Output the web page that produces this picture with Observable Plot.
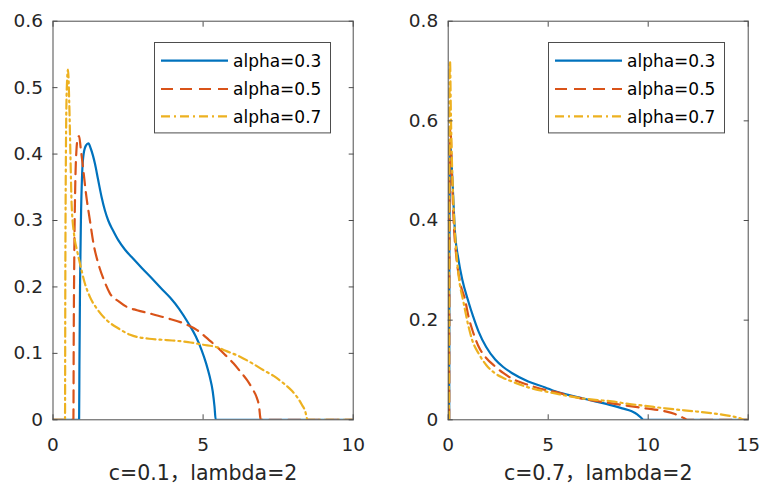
<!DOCTYPE html>
<html><head><meta charset="utf-8">
<script src="https://cdn.jsdelivr.net/npm/d3@7"></script>
<script src="https://cdn.jsdelivr.net/npm/@observablehq/plot@0.6"></script>
<style>
body{margin:0;background:#fff;}
#wrap{position:relative;width:760px;height:488px;overflow:hidden;font-family:"DejaVu Sans","Noto Sans CJK SC",sans-serif;}
.panel{position:absolute;top:0;}
.legend{position:absolute;}
</style></head><body><div id="wrap"></div>
<script>
const seriesNames = ["alpha=0.3", "alpha=0.5", "alpha=0.7"];
const colors = ["#0072BD", "#D95319", "#EDB120"];
const dashes = [null, "12,7", "9,4,2,4"];

// Left panel: c=0.1, lambda=2
const leftXTicks = [0, 5, 10];
const leftYTicks = [0, 0.1, 0.2, 0.3, 0.4, 0.5, 0.6];
const leftX03 = [0, 0.87, 0.88, 0.9, 0.93, 0.97, 1.02, 1.1, 1.18, 1.26, 1.4, 1.5, 1.62, 1.73, 1.84, 2.0, 2.18, 2.4, 2.62, 2.95, 3.29, 3.6, 3.9, 4.2, 4.5, 4.75, 4.95, 5.1, 5.22, 5.32, 5.38, 5.42, 10];
const leftY03 = [0, 0, 0.08, 0.2, 0.3, 0.37, 0.4, 0.413, 0.416, 0.408, 0.385, 0.362, 0.335, 0.315, 0.3, 0.285, 0.27, 0.256, 0.245, 0.229, 0.213, 0.198, 0.184, 0.167, 0.146, 0.126, 0.105, 0.085, 0.065, 0.043, 0.02, 0, 0];
const leftX05 = [0, 0.68, 0.69, 0.71, 0.74, 0.78, 0.83, 0.87, 0.92, 1.0, 1.1, 1.23, 1.35, 1.51, 1.7, 1.9, 2.2, 2.46, 2.8, 3.23, 3.8, 4.3, 4.8, 5.2, 5.46, 5.75, 6.01, 6.25, 6.46, 6.65, 6.79, 6.87, 6.9, 6.92, 10];
const leftY05 = [0, 0, 0.12, 0.25, 0.35, 0.405, 0.425, 0.427, 0.41, 0.38, 0.34, 0.3, 0.265, 0.235, 0.21, 0.19, 0.178, 0.17, 0.165, 0.16, 0.153, 0.146, 0.135, 0.12, 0.11, 0.097, 0.085, 0.072, 0.06, 0.046, 0.033, 0.018, 0.005, 0, 0];
const leftX07 = [0, 0.4, 0.41, 0.43, 0.46, 0.5, 0.54, 0.58, 0.62, 0.7, 0.8, 0.9, 1.05, 1.23, 1.5, 1.79, 2.2, 2.57, 3.2, 3.79, 4.5, 5.0, 5.4, 5.8, 6.23, 6.6, 7.0, 7.35, 7.68, 7.95, 8.12, 8.3, 8.4, 8.45, 8.47, 10];
const leftY07 = [0, 0, 0.2, 0.4, 0.5, 0.527, 0.48, 0.4, 0.325, 0.28, 0.255, 0.235, 0.207, 0.185, 0.165, 0.15, 0.137, 0.128, 0.122, 0.12, 0.117, 0.113, 0.11, 0.103, 0.095, 0.086, 0.075, 0.066, 0.055, 0.044, 0.035, 0.022, 0.013, 0.004, 0, 0];

// Right panel: c=0.7, lambda=2
const rightXTicks = [0, 5, 10, 15];
const rightYTicks = [0, 0.2, 0.4, 0.6, 0.8];
const rightX03 = [0, 0.05, 0.06, 0.08, 0.12, 0.2, 0.35, 0.5, 0.7, 1.02, 1.25, 1.52, 1.9, 2.35, 2.75, 3.18, 4.0, 4.85, 5.35, 6.0, 6.52, 7.35, 8.18, 8.7, 9.18, 9.45, 9.62, 9.72, 9.77, 15];
const rightY03 = [0, 0, 0.3, 0.5, 0.55, 0.49, 0.37, 0.325, 0.282, 0.236, 0.207, 0.177, 0.146, 0.121, 0.106, 0.094, 0.077, 0.065, 0.057, 0.05, 0.045, 0.037, 0.029, 0.023, 0.017, 0.011, 0.005, 0.001, 0, 0];
const rightX05 = [0, 0.05, 0.06, 0.08, 0.11, 0.18, 0.27, 0.4, 0.6, 0.85, 1.0, 1.25, 1.52, 1.9, 2.35, 2.75, 3.18, 4.0, 4.85, 5.35, 6.0, 6.52, 7.35, 8.18, 9.0, 9.85, 10.85, 11.3, 11.6, 11.8, 11.95, 15];
const rightY05 = [0, 0, 0.35, 0.55, 0.59, 0.5, 0.4, 0.33, 0.275, 0.24, 0.21, 0.175, 0.147, 0.124, 0.107, 0.094, 0.083, 0.07, 0.06, 0.056, 0.049, 0.044, 0.038, 0.033, 0.028, 0.023, 0.017, 0.012, 0.007, 0.003, 0, 0];
const rightX07 = [0, 0.04, 0.05, 0.07, 0.09, 0.14, 0.2, 0.27, 0.38, 0.52, 0.77, 1.0, 1.2, 1.52, 1.9, 2.35, 2.75, 3.18, 4.0, 4.85, 5.35, 5.7, 6.52, 7.35, 8.18, 9.0, 9.85, 10.85, 11.8, 12.8, 13.6, 14.2, 14.6, 14.8, 15];
const rightY07 = [0, 0, 0.4, 0.68, 0.72, 0.6, 0.5, 0.427, 0.35, 0.29, 0.235, 0.19, 0.16, 0.133, 0.11, 0.093, 0.084, 0.077, 0.065, 0.057, 0.053, 0.05, 0.044, 0.04, 0.037, 0.032, 0.028, 0.023, 0.019, 0.015, 0.011, 0.007, 0.003, 0, 0];

const FONT = '"DejaVu Sans", "Noto Sans CJK SC", sans-serif';
const AXIS = "#4d4d4d";

function zip(xs, ys) { return xs.map((x, i) => ({x, y: ys[i]})); }
function fmt(d) { return d === 0 ? "0" : String(+d.toFixed(2)); }

function panel(cfg) {
  const series = cfg.series.map(([xs, ys]) => zip(xs, ys));
  const marks = [];
  series.forEach((s, i) => {
    marks.push(Plot.line(s, {x: "x", y: "y", stroke: colors[i], strokeWidth: 2.2, strokeDasharray: dashes[i] || undefined, curve: "monotone-x", clip: true}));
  });
  marks.push(
    Plot.frame({stroke: AXIS, strokeWidth: 1}),
    Plot.axisX({anchor: "bottom", ticks: cfg.xTicks, tickSize: -5, tickPadding: 23, tickFormat: fmt, stroke: AXIS, fill: "#262626", fontSize: 18.5, label: null}),
    Plot.axisX({anchor: "top", ticks: cfg.xTicks, tickSize: -5, tickFormat: () => "", stroke: AXIS, label: null}),
    Plot.axisY({anchor: "left", ticks: cfg.yTicks, tickSize: -5, tickPadding: 15, tickFormat: fmt, stroke: AXIS, fill: "#262626", fontSize: 18.5, label: null}),
    Plot.axisY({anchor: "right", ticks: cfg.yTicks, tickSize: -5, tickFormat: () => "", stroke: AXIS, label: null}),
    Plot.text([cfg.xlabel], {text: d => d, frameAnchor: "bottom", dy: 60, fontSize: 20.5, fill: "#262626"})
  );
  const chart = Plot.plot({
    width: cfg.width, height: 488,
    marginLeft: cfg.ml, marginRight: cfg.mr, marginTop: 20.7, marginBottom: 68.7,
    x: {domain: cfg.xDomain, label: null},
    y: {domain: cfg.yDomain, label: null},
    style: {fontFamily: FONT, background: "transparent", color: "#262626", overflow: "visible"},
    marks
  });
  const div = document.createElement("div");
  div.className = "panel";
  div.style.left = cfg.left + "px";
  div.appendChild(chart);
  document.getElementById("wrap").appendChild(div);

  // legend
  const lg = d3.select("#wrap").append("svg").attr("class", "legend")
    .style("left", cfg.legLeft + "px").style("top", "42.3px")
    .attr("width", 177).attr("height", 92);
  lg.append("rect").attr("x", 0.5).attr("y", 0.5).attr("width", 176).attr("height", 90.4)
    .attr("fill", "#fff").attr("stroke", AXIS).attr("stroke-width", 1);
  seriesNames.forEach((name, i) => {
    const yy = [18.7, 47, 74.4][i];
    lg.append("line").attr("x1", 7).attr("x2", 74).attr("y1", yy).attr("y2", yy)
      .attr("stroke", colors[i]).attr("stroke-width", 2.2).attr("stroke-dasharray", dashes[i]);
    lg.append("text").attr("x", 79).attr("y", yy).attr("dy", "0.36em")
      .attr("font-family", FONT).attr("font-size", 17).attr("fill", "#000").text(name);
  });
}

panel({
  left: 0, width: 380, ml: 52.5, mr: 27.3,
  xDomain: [0, 10], yDomain: [0, 0.6], xTicks: leftXTicks, yTicks: leftYTicks,
  xlabel: "c=0.1，lambda=2",
  series: [[leftX03, leftY03], [leftX05, leftY05], [leftX07, leftY07]],
  legLeft: 154
});
panel({
  left: 380, width: 380, ml: 67.7, mr: 12.3,
  xDomain: [0, 15], yDomain: [0, 0.8], xTicks: rightXTicks, yTicks: rightYTicks,
  xlabel: "c=0.7，lambda=2",
  series: [[rightX03, rightY03], [rightX05, rightY05], [rightX07, rightY07]],
  legLeft: 548
});
</script></body></html>
